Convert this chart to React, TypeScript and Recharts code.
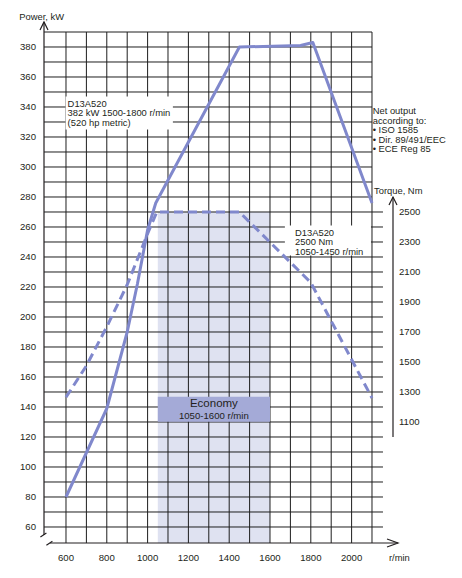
import React from "react";
import {
  ComposedChart,
  Line,
  XAxis,
  YAxis,
  ReferenceArea,
  ReferenceLine,
  ReferenceDot,
} from "recharts";

// engine speed, r/min
const rpmGrid = [600, 700, 800, 900, 1000, 1100, 1200, 1300, 1400, 1500, 1600, 1700, 1800, 1900, 2000, 2100];
const rpmTicks = [600, 800, 1000, 1200, 1400, 1600, 1800, 2000];

// power axis, kW
const powerGrid = [60, 70, 80, 90, 100, 110, 120, 130, 140, 150, 160, 170, 180, 190, 200, 210, 220, 230, 240, 250, 260, 270, 280, 290, 300, 310, 320, 330, 340, 350, 360, 370, 380, 390];
const powerTicks = [60, 80, 100, 120, 140, 160, 180, 200, 220, 240, 260, 280, 300, 320, 340, 360, 380];

// torque axis, Nm
const torqueTicks = [1100, 1300, 1500, 1700, 1900, 2100, 2300, 2500];

// power curve (solid)
const powerRpm = [600, 800, 900, 950, 1000, 1040, 1450, 1750, 1810, 2100];
const powerKw = [80, 139, 190, 222, 258, 276, 380, 381, 383, 276];

// torque curve (dashed)
const torqueRpm = [600, 700, 800, 900, 1000, 1045, 1450, 1800, 2100];
const torqueNm = [1265, 1475, 1735, 2015, 2355, 2500, 2500, 2030, 1260];

// economy range
const economyRpm = [1050, 1600];

const powerData = powerRpm.map((rpm, i) => ({ rpm, kw: powerKw[i] }));
const torqueData = torqueRpm.map((rpm, i) => ({ rpm, nm: torqueNm[i] }));

const X_MIN = 492.2;
const X_MAX = 2202.94;
const P_MIN = 49.333;
const P_MAX = 390;
// torque scale is tied to power scale: kW = Nm / 10 + 20
const T_MIN = (P_MIN - 20) * 10;
const T_MAX = (P_MAX - 20) * 10;

const FONT = "'Liberation Sans', Arial, Helvetica, sans-serif";
const INK = "#231f20";
const GRID = "#1e1e1e";
const CURVE = "#8088cc";

const tickStyle = { fontSize: 9.6, fill: INK, fontFamily: FONT };

const note =
  (lines: string[], size = 9.4, lh = 9.5, anchor: "start" | "middle" = "start") =>
  (props: any) => (
    <text
      x={props.cx}
      y={props.cy}
      fontSize={size}
      fill={INK}
      fontFamily={FONT}
      textAnchor={anchor}
    >
      {lines.map((l, i) => (
        <tspan key={i} x={props.cx} dy={i === 0 ? "0.35em" : lh}>
          {l}
        </tspan>
      ))}
    </text>
  );

const arrowUp = (props: any) => (
  <path
    d={`M${props.cx - 4},${props.cy + 8} L${props.cx},${props.cy} L${props.cx + 4},${props.cy + 8}`}
    fill="none"
    stroke={INK}
    strokeWidth={1.2}
  />
);

const arrowRight = (props: any) => (
  <path
    d={`M${props.cx - 11},${props.cy - 4} L${props.cx},${props.cy} L${props.cx - 11},${props.cy + 4}`}
    fill="none"
    stroke={INK}
    strokeWidth={1.2}
  />
);

const axisBreak = (props: any) => (
  <path
    d={`M${props.cx - 3.6},${props.cy - 6} L${props.cx + 2.4},${props.cy - 10} M${props.cx + 2.4},${props.cy + 2.3} L${props.cx + 8.4},${props.cy - 1.7}`}
    fill="none"
    stroke={INK}
    strokeWidth={1.2}
  />
);

export default function App() {
  return (
    <div style={{ position: "absolute", left: 0, top: 0, background: "#fff" }}>
      <ComposedChart
        width={462}
        height={578}
        margin={{ top: 32, right: 0, bottom: 0, left: 0 }}
      >
        <XAxis
          type="number"
          dataKey="rpm"
          domain={[X_MIN, X_MAX]}
          ticks={rpmTicks}
          allowDataOverflow
          height={35}
          axisLine={false}
          tickLine={false}
          tickSize={0}
          tickMargin={11.5}
          tick={tickStyle}
        />
        <YAxis
          type="number"
          domain={[P_MIN, P_MAX]}
          ticks={powerTicks}
          allowDataOverflow
          width={44}
          axisLine={false}
          tickLine={false}
          tickSize={0}
          tickMargin={8}
          tick={{ ...tickStyle, textAnchor: "end" }}
        />
        <YAxis
          yAxisId="torque"
          orientation="right"
          type="number"
          domain={[T_MIN, T_MAX]}
          ticks={torqueTicks}
          allowDataOverflow
          width={69}
          axisLine={false}
          tickLine={false}
          tickSize={0}
          tickMargin={6}
          tick={tickStyle}
        />

        {/* economy band behind the grid */}
        <ReferenceArea
          x1={economyRpm[0]}
          x2={economyRpm[1]}
          y1={P_MIN}
          y2={270}
          fill="#dfe2f1"
          fillOpacity={1}
          stroke="none"
          zIndex={-150}
        />

        {/* grid */}
        {rpmGrid.map((r) => (
          <ReferenceLine
            key={"v" + r}
            segment={[
              { x: r, y: P_MIN },
              { x: r, y: P_MAX },
            ]}
            stroke={GRID}
            strokeWidth={1}
            ifOverflow="visible"
            zIndex={-100}
          />
        ))}
        {powerGrid.map((p) => (
          <ReferenceLine
            key={"h" + p}
            segment={[
              { x: X_MIN, y: p },
              { x: p <= 270 ? 2153.9 : 2100, y: p },
            ]}
            stroke={GRID}
            strokeWidth={1}
            ifOverflow="visible"
            zIndex={-100}
          />
        ))}

        {/* white note boxes and economy label box */}
        <ReferenceArea x1={598} x2={1124} y1={325} y2={347} fill="#fff" fillOpacity={1} stroke="none" ifOverflow="visible" zIndex={50} />
        <ReferenceArea x1={1673} x2={2095} y1={241} y2={261} fill="#fff" fillOpacity={1} stroke="none" ifOverflow="visible" zIndex={50} />
        <ReferenceArea x1={economyRpm[0]} x2={economyRpm[1]} y1={130.2} y2={146.9} fill="#a4aad7" fillOpacity={1} stroke="none" ifOverflow="visible" zIndex={50} />

        <Line
          data={powerData}
          dataKey="kw"
          type="linear"
          stroke={CURVE}
          strokeWidth={3}
          strokeLinejoin="round"
          dot={false}
          activeDot={false}
          isAnimationActive={false}
          zIndex={400}
        />
        <Line
          data={torqueData}
          dataKey="nm"
          yAxisId="torque"
          type="linear"
          stroke={CURVE}
          strokeWidth={3}
          strokeDasharray="9 5"
          strokeLinejoin="round"
          dot={false}
          activeDot={false}
          isAnimationActive={false}
          zIndex={400}
        />

        {/* axes with arrows */}
        <ReferenceLine
          segment={[
            { x: X_MIN, y: 54.7 },
            { x: X_MIN, y: 396.7 },
          ]}
          stroke={INK}
          strokeWidth={1.2}
          ifOverflow="visible"
          zIndex={500}
        />
        <ReferenceDot x={X_MIN} y={396.7} r={0} shape={arrowUp} ifOverflow="visible" zIndex={500} />
        <ReferenceLine
          segment={[
            { x: 521.6, y: P_MIN },
            { x: 2227.5, y: P_MIN },
          ]}
          stroke={INK}
          strokeWidth={1.2}
          ifOverflow="visible"
          zIndex={500}
        />
        <ReferenceDot x={2227.5} y={P_MIN} r={0} shape={arrowRight} ifOverflow="visible" zIndex={500} />
        <ReferenceDot x={X_MIN} y={P_MIN} r={0} shape={axisBreak} ifOverflow="visible" zIndex={500} />
        <ReferenceLine
          yAxisId="torque"
          segment={[
            { x: X_MAX, y: 1000 },
            { x: X_MAX, y: 2600 },
          ]}
          stroke={INK}
          strokeWidth={1.2}
          ifOverflow="visible"
          zIndex={500}
        />
        <ReferenceDot yAxisId="torque" x={X_MAX} y={2600} r={0} shape={arrowUp} ifOverflow="visible" zIndex={500} />

        {/* texts */}
        <ReferenceDot x={371} y={400.5} r={0} shape={note(["Power, kW"])} ifOverflow="visible" zIndex={2000} />
        <ReferenceDot x={2183} y={39.5} r={0} shape={note(["r/min"])} ifOverflow="visible" zIndex={2000} />
        <ReferenceDot x={2109.8} y={284.2} r={0} shape={note(["Torque, Nm"])} ifOverflow="visible" zIndex={2000} />
        <ReferenceDot
          x={608}
          y={342.3}
          r={0}
          shape={note(["D13A520", "382 kW 1500-1800 r/min", "(520 hp metric)"])}
          ifOverflow="visible"
          zIndex={2000}
        />
        <ReferenceDot
          x={1722.5}
          y={256.5}
          r={0}
          shape={note(["D13A520", "2500 Nm", "1050-1450 r/min"])}
          ifOverflow="visible"
          zIndex={2000}
        />
        <ReferenceDot
          x={2103.4}
          y={337.5}
          r={0}
          shape={note(["Net output", "according to:", "• ISO 1585", "• Dir. 89/491/EEC", "• ECE Reg 85"])}
          ifOverflow="visible"
          zIndex={2000}
        />
        <ReferenceDot x={1325} y={142.8} r={0} shape={note(["Economy"], 11.5, 0, "middle")} ifOverflow="visible" zIndex={2000} />
        <ReferenceDot x={1325} y={134.3} r={0} shape={note(["1050-1600 r/min"], 9.6, 0, "middle")} ifOverflow="visible" zIndex={2000} />
      </ComposedChart>
    </div>
  );
}
